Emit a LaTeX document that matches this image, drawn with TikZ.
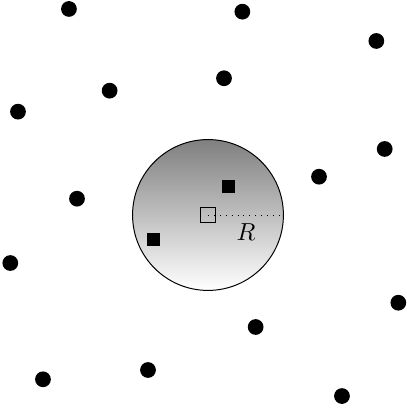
\documentclass[tikz,border=0pt]{standalone}
\usepackage{amsmath,amssymb}
\usepackage{tikz}
\usetikzlibrary{positioning,calc}

\begin{document}
\begin{tikzpicture}[
    dot/.style={circle, fill=black, inner sep=0pt, minimum size=0.225cm},
    dev/.style={rectangle, fill=black, inner sep=0pt, minimum size=0.18cm},
    hub/.style={rectangle, draw, thin, inner sep=0pt, minimum size=0.21cm},
    cell/.style={circle, draw, top color=black!50, bottom color=white, inner sep=0pt, minimum size=2.155cm}
  ]
    \useasboundingbox (-2.971,-2.857) rectangle (2.829,3.071);
    % coverage disk
    \node[cell] (disk) at (0,0) {};
    \node[hub] (c) at (0,0) {};
    \node[dev] (d1) at (0.295,0.404) {};
    \node[dev] (d2) at (-0.779,-0.353) {};
    \draw[dotted] (c.center) -- (disk.east) node[midway, below] {$R$};
    % outside points
    \node[dot] (p1) at (-1.986,2.943) {};
    \node[dot] (p2) at (0.491,2.904) {};
    \node[dot] (p3) at (2.405,2.486) {};
    \node[dot] (p4) at (0.229,1.953) {};
    \node[dot] (p5) at (-1.405,1.776) {};
    \node[dot] (p6) at (-2.714,1.476) {};
    \node[dot] (p7) at (2.524,0.943) {};
    \node[dot] (p8) at (1.586,0.547) {};
    \node[dot] (p9) at (-1.871,0.233) {};
    \node[dot] (p10) at (-2.824,-0.686) {};
    \node[dot] (p11) at (2.719,-1.253) {};
    \node[dot] (p12) at (0.681,-1.600) {};
    \node[dot] (p13) at (-0.857,-2.214) {};
    \node[dot] (p14) at (-2.357,-2.347) {};
    \node[dot] (p15) at (1.914,-2.586) {};
  \end{tikzpicture}
\end{document}
